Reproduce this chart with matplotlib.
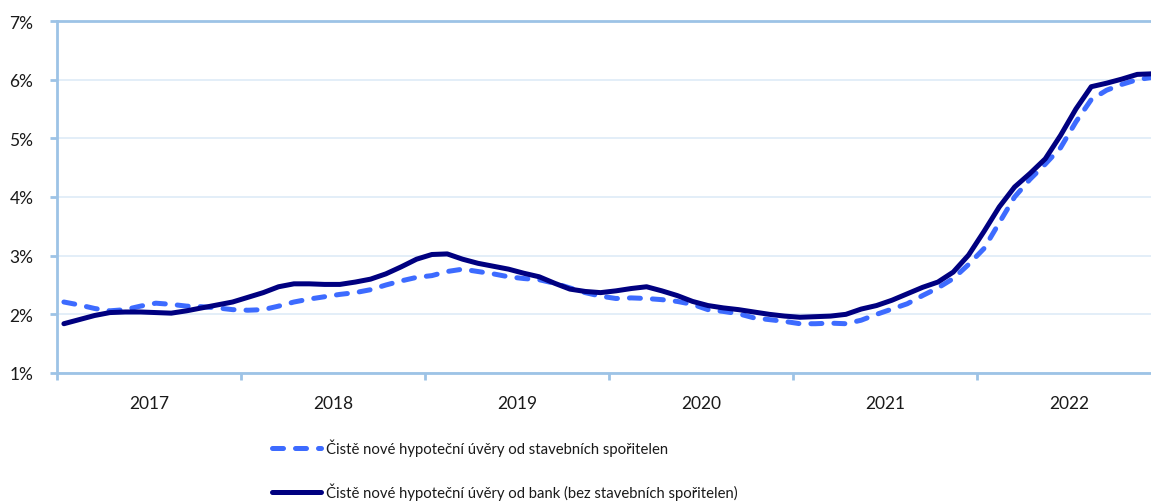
import numpy as np
import matplotlib
matplotlib.use("Agg")
from matplotlib import pyplot as plt

plt.rcParams['font.family'] = ['Lato', 'DejaVu Sans']

# monthly data, Jan 2017 .. Dec 2022 (%)
years = ["2017", "2018", "2019", "2020", "2021", "2022"]

stavebni = [
    2.21, 2.16, 2.10, 2.06, 2.08, 2.14, 2.19, 2.17, 2.14, 2.13, 2.11, 2.08,
    2.07, 2.08, 2.14, 2.21, 2.26, 2.30, 2.34, 2.37, 2.42, 2.50, 2.57, 2.63,
    2.66, 2.73, 2.77, 2.73, 2.69, 2.64, 2.61, 2.59, 2.53, 2.45, 2.37, 2.31,
    2.27, 2.28, 2.27, 2.25, 2.22, 2.17, 2.08, 2.05, 2.01, 1.94, 1.91, 1.88,
    1.84, 1.84, 1.85, 1.84, 1.90, 2.00, 2.09, 2.18, 2.32, 2.45, 2.61, 2.85,
    3.12, 3.56, 4.00, 4.30, 4.56, 4.84, 5.28, 5.66, 5.82, 5.92, 6.00, 6.04,
]

banky = [
    1.84, 1.91, 1.98, 2.03, 2.04, 2.04, 2.03, 2.02, 2.06, 2.11, 2.16, 2.21,
    2.29, 2.37, 2.47, 2.52, 2.52, 2.51, 2.51, 2.55, 2.60, 2.69, 2.81, 2.94,
    3.02, 3.03, 2.94, 2.87, 2.82, 2.77, 2.70, 2.64, 2.53, 2.43, 2.39, 2.37,
    2.40, 2.44, 2.47, 2.40, 2.32, 2.22, 2.15, 2.11, 2.08, 2.04, 2.00, 1.97,
    1.95, 1.96, 1.97, 2.00, 2.09, 2.15, 2.24, 2.35, 2.46, 2.55, 2.72, 3.01,
    3.41, 3.83, 4.17, 4.40, 4.65, 5.05, 5.50, 5.88, 5.94, 6.01, 6.09, 6.10,
]

label_stav = "Čistě nové hypoteční úvěry od stavebních spořitelen"
label_bank = "Čistě nové hypoteční úvěry od bank (bez stavebních spořitelen)"

axis_col = "#9DC3E6"
grid_col = "#DEEBF7"

fig = plt.figure(figsize=(11.51, 5.02), dpi=100)
ax = fig.add_axes([57 / 1151, 1 - 374 / 502, 1 - 57 / 1151, 352 / 502])

x = np.arange(len(banky)) + 0.45
ax.plot(x, np.array(stavebni) / 100, color="#3D6BFF", lw=3.6,
        dashes=(2.2, 2.4), dash_capstyle="round", label=label_stav)
ax.plot(x, np.array(banky) / 100, color="#000080", lw=3.6,
        solid_capstyle="round", solid_joinstyle="round", label=label_bank)

ax.set_yticks(np.arange(0.01, 0.071, 0.01))
ax.set_yticklabels([f"{v}%" for v in range(1, 8)])
ax.set_ylim(0.01, 0.07)
ax.set_xticks(np.arange(0, 72, 12))
ax.set_xticklabels([])
ax.set_xticks(np.arange(6, 72, 12), minor=True)
ax.set_xticklabels(years, minor=True)
# one year = 184 px of a 1094 px wide plot area
ax.set_xlim(0, 1094 / (184 / 12))

ax.grid(axis="y", color=grid_col, lw=1.2)
ax.set_axisbelow(True)
ax.spines["right"].set_visible(False)
for s in ["top", "left", "bottom"]:
    ax.spines[s].set_color(axis_col)
    ax.spines[s].set_linewidth(2)

ax.tick_params(axis="y", which="major", length=5, width=2, color=axis_col,
               labelsize=12.5, pad=12, labelcolor="#1a1a1a")
ax.tick_params(axis="x", which="major", length=5, width=2, color=axis_col)
ax.tick_params(axis="x", which="minor", length=0, labelsize=12.5, pad=16,
               labelcolor="#1a1a1a")

fig.legend(loc="upper left", bbox_to_anchor=(272 / 1151, 1 - 440 / 502),
           ncol=1, frameon=False, fontsize=10.7, handlelength=3.3,
           handletextpad=0.35, labelspacing=1.75, borderpad=0,
           borderaxespad=0, labelcolor="#1a1a1a")

fig.savefig("out.png", dpi=100)
